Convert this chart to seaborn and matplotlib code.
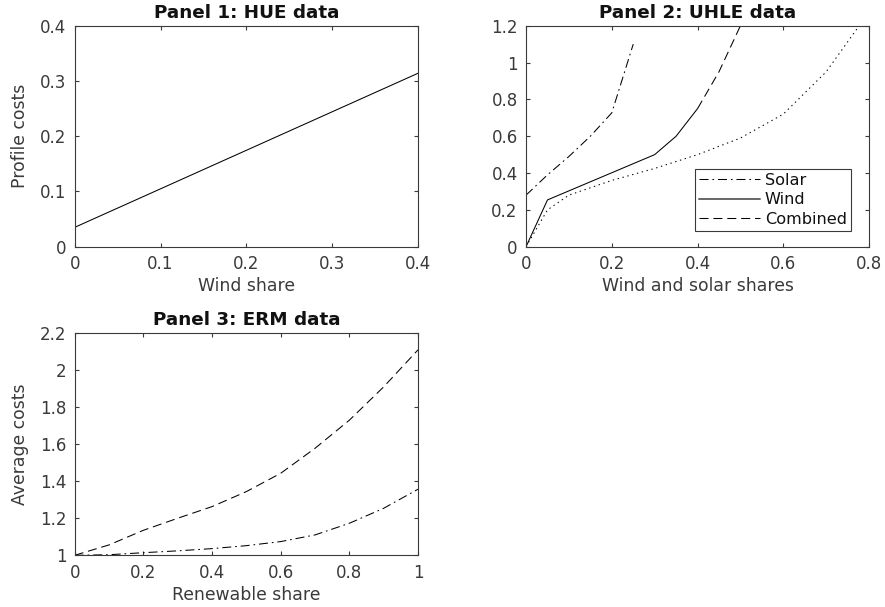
import matplotlib
matplotlib.use("Agg")
import matplotlib.pyplot as plt
import seaborn as sns
from matplotlib.lines import Line2D

# ---- data ----
hue_share = [0.0, 0.4]
hue_cost = [0.035, 0.314]

solar_share = [0.0, 0.05, 0.10, 0.15, 0.20, 0.25]
solar_cost = [0.28, 0.39, 0.49, 0.60, 0.727, 1.10]

wind_share = [0.0, 0.05, 0.30, 0.35, 0.40]
wind_cost = [0.0, 0.254, 0.50, 0.60, 0.75]

wind_ext_share = [0.40, 0.45, 0.50]
wind_ext_cost = [0.75, 0.95, 1.20]

comb_share = [0.0, 0.05, 0.10, 0.20, 0.30, 0.40, 0.50, 0.60, 0.70, 0.78]
comb_cost = [0.0, 0.20, 0.28, 0.36, 0.425, 0.50, 0.59, 0.72, 0.95, 1.21]

erm_share = [0.0, 0.1, 0.2, 0.3, 0.4, 0.5, 0.6, 0.7, 0.8, 0.9, 1.0]
erm_dashed = [1.0, 1.056, 1.135, 1.2, 1.263, 1.344, 1.443, 1.578, 1.73, 1.91, 2.11]
erm_dashdot = [1.0, 1.003, 1.014, 1.024, 1.036, 1.052, 1.074, 1.11, 1.173, 1.254, 1.357]

sns.set_style("ticks")
plt.rcParams['font.family'] = ['DejaVu Sans']
GRAY = '#3a3a3a'
plt.rcParams.update({
    'axes.edgecolor': GRAY, 'axes.linewidth': 0.8,
    'xtick.color': GRAY, 'ytick.color': GRAY,
    'xtick.labelcolor': GRAY, 'ytick.labelcolor': GRAY,
    'axes.labelcolor': GRAY,
    'lines.scale_dashes': False,
})

DASH = (0, (6.5, 3.5))
DASHDOT = (0, (6.5, 2.8, 1.2, 2.8))
DOT = (0, (1.0, 2.6))

fig = plt.figure(figsize=(8.85, 6.07), dpi=100)
ax1 = fig.add_axes([0.0844, 0.5936, 0.388, 0.364])
ax2 = fig.add_axes([0.5944, 0.5936, 0.3876, 0.364])
ax3 = fig.add_axes([0.0844, 0.0852, 0.388, 0.366])

lw = 0.75

def style(ax, xlim, ylim, xticks, yticks, xlabels, ylabels):
    ax.set_xlim(*xlim)
    ax.set_ylim(*ylim)
    ax.set_xticks(xticks)
    ax.set_yticks(yticks)
    ax.set_xticklabels(xlabels)
    ax.set_yticklabels(ylabels)
    ax.tick_params(direction='in', top=True, right=True, length=2.8, width=0.8,
                   labelsize=12, pad=6)
    for s in ax.spines.values():
        s.set_visible(True)

TFS = 13.2
LFS = 12.4

# Panel 1
sns.lineplot(x=hue_share, y=hue_cost, ax=ax1, color='black', lw=lw)
style(ax1, (0, 0.4), (0, 0.4), [0, 0.1, 0.2, 0.3, 0.4], [0, 0.1, 0.2, 0.3, 0.4],
      ['0', '0.1', '0.2', '0.3', '0.4'], ['0', '0.1', '0.2', '0.3', '0.4'])
ax1.set_title('Panel 1: HUE data', fontweight='bold', fontsize=TFS, pad=5.5, color='#111111')
ax1.set_xlabel('Wind share', fontsize=LFS, labelpad=3)
ax1.set_ylabel('Profile costs', fontsize=LFS, labelpad=8)

# Panel 2
sns.lineplot(x=solar_share, y=solar_cost, ax=ax2, color='black', lw=lw, linestyle=DASHDOT)
sns.lineplot(x=wind_share, y=wind_cost, ax=ax2, color='black', lw=lw)
sns.lineplot(x=wind_ext_share, y=wind_ext_cost, ax=ax2, color='black', lw=lw, linestyle=DASH)
sns.lineplot(x=comb_share, y=comb_cost, ax=ax2, color='black', lw=lw, linestyle=DOT)
style(ax2, (0, 0.8), (0, 1.2), [0, 0.2, 0.4, 0.6, 0.8], [0, 0.2, 0.4, 0.6, 0.8, 1.0, 1.2],
      ['0', '0.2', '0.4', '0.6', '0.8'], ['0', '0.2', '0.4', '0.6', '0.8', '1', '1.2'])
ax2.set_title('Panel 2: UHLE data', fontweight='bold', fontsize=TFS, pad=5.5, color='#111111')
ax2.set_xlabel('Wind and solar shares', fontsize=LFS, labelpad=3)
handles = [Line2D([], [], color='black', lw=lw, linestyle=DASHDOT),
           Line2D([], [], color='#666666', lw=1.4),
           Line2D([], [], color='black', lw=lw, linestyle=DASH)]
leg = ax2.legend(handles, ['Solar', 'Wind', 'Combined'], loc='lower right',
                 bbox_to_anchor=(0.947, 0.071), fontsize=11.6, frameon=True, fancybox=False,
                 edgecolor=GRAY, handlelength=3.8, handletextpad=0.3, borderpad=0.25,
                 labelspacing=0.28, borderaxespad=0, framealpha=1)
for t in leg.get_texts():
    t.set_color('#111111')
leg.get_frame().set_linewidth(0.8)

# Panel 3
sns.lineplot(x=erm_share, y=erm_dashed, ax=ax3, color='black', lw=lw, linestyle=DASH)
sns.lineplot(x=erm_share, y=erm_dashdot, ax=ax3, color='black', lw=lw, linestyle=DASHDOT)
style(ax3, (0, 1), (1, 2.2), [0, 0.2, 0.4, 0.6, 0.8, 1.0], [1, 1.2, 1.4, 1.6, 1.8, 2.0, 2.2],
      ['0', '0.2', '0.4', '0.6', '0.8', '1'], ['1', '1.2', '1.4', '1.6', '1.8', '2', '2.2'])
ax3.set_title('Panel 3: ERM data', fontweight='bold', fontsize=TFS, pad=5.5, color='#111111')
ax3.set_xlabel('Renewable share', fontsize=LFS, labelpad=3)
ax3.set_ylabel('Average costs', fontsize=LFS, labelpad=8)

fig.savefig('out.png', dpi=100)
